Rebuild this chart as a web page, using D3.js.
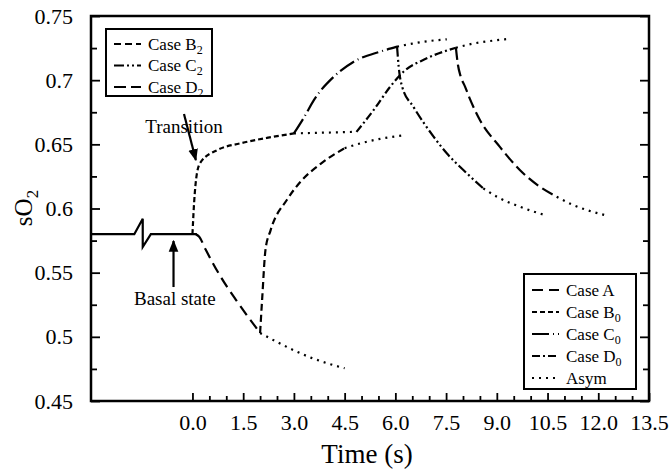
<!DOCTYPE html>
<html>
<head>
<meta charset="utf-8">
<script src="https://cdn.jsdelivr.net/npm/d3@7"></script>
<style>
  body { margin: 0; background: #fff; }
  text { font-family: 'Liberation Serif', 'DejaVu Serif', serif; fill: #000; }
</style>
</head>
<body>
<div class="chart-container"></div>
<script>
// values: [time (s), sO2]
var basal = [[-3, 0.58], [-1.72, 0.58], [-1.47, 0.592], [-1.47, 0.57], [-1.23, 0.58], [0.13, 0.58]];
var caseA = [[0.1, 0.58], [0.2, 0.578], [0.39, 0.568], [0.83, 0.547], [1.28, 0.529], [1.66, 0.515], [2.0, 0.503]];
var asymA = [[2.0, 0.503], [2.5, 0.496], [3.0, 0.4895], [3.5, 0.4838], [4.0, 0.4793], [4.5, 0.4755]];
var caseB0 = [[0, 0.58], [0.05, 0.605], [0.13, 0.627], [0.24, 0.636], [0.74, 0.6456], [1.42, 0.6508], [2.2, 0.655], [3.0, 0.6585]];
var asymB0 = [[3.0, 0.6585], [3.75, 0.659], [4.5, 0.6595], [4.8, 0.6597]];
var caseB2 = [[2.0, 0.503], [2.06, 0.529], [2.16, 0.568], [2.31, 0.583], [2.8, 0.607], [3.2, 0.621], [3.8, 0.635], [4.5, 0.647]];
var asymB2 = [[4.5, 0.647], [5.0, 0.651], [5.6, 0.6545], [6.25, 0.657]];
var caseC0 = [[3.0, 0.6585], [3.3, 0.671], [3.59, 0.6845], [4.18, 0.7027], [4.77, 0.7144], [5.55, 0.7222], [6.05, 0.7261]];
var asymC0 = [[6.05, 0.7261], [6.5, 0.7285], [7.0, 0.7305], [7.52, 0.7318]];
var caseD0 = [[4.85, 0.6597], [5.36, 0.6768], [5.85, 0.695], [6.24, 0.7066], [6.93, 0.717], [7.79, 0.7253]];
var asymD0 = [[7.79, 0.7253], [8.3, 0.7285], [8.8, 0.7305], [9.3, 0.732]];
var caseC2 = [[6.05, 0.7261], [6.1, 0.71], [6.2, 0.695], [6.54, 0.679], [7.13, 0.656], [7.52, 0.643], [8.01, 0.63], [8.6, 0.6157]];
var asymC2 = [[8.6, 0.6157], [9.0, 0.6092], [9.68, 0.6014], [10.42, 0.5949]];
var caseD2 = [[7.79, 0.7253], [7.85, 0.712], [7.93, 0.703], [8.06, 0.695], [8.21, 0.685], [8.5, 0.669], [9.09, 0.648], [9.68, 0.63], [10.27, 0.617], [10.77, 0.6092]];
var asymD2 = [[10.77, 0.6092], [11.26, 0.6027], [11.7, 0.5985], [12.19, 0.5949]];

var xTicks = [0, 1.5, 3.0, 4.5, 6.0, 7.5, 9.0, 10.5, 12.0, 13.5];
var xMinorTicks = d3.range(0, 13.51, 0.5);
var yTicks = [0.45, 0.5, 0.55, 0.6, 0.65, 0.7, 0.75];
var yMinorTicks = [0.475, 0.525, 0.575, 0.625, 0.675, 0.725];

var legendTop = [['Case B', '2'], ['Case C', '2'], ['Case D', '2']];
var legendBottom = [['Case A', ''], ['Case B', '0'], ['Case C', '0'], ['Case D', '0'], ['Asym', '']];

// annotation anchors in data units
var transitionArrow = [[-0.25, 0.6736], [0.1, 0.6378]];
var transitionLabel = [-0.25, 0.6588];
var basalArrow = [[-0.56, 0.5388], [-0.56, 0.5747]];
var basalLabel = [-0.52, 0.5248];

var dash = {
  A: '11,6',
  B0: '5,3',
  B2: '7,4',
  C0: '17,4,1,4',
  D0: '8,3,2,3',
  C2: '10,3,2,3,2,3',
  D2: '12,5',
  asym: '2,5'
};

var W = 670, H = 471;
var margin = {top: 16, right: 21, bottom: 70, left: 91};

var x = d3.scaleLinear().domain([-3, 13.5]).range([margin.left, W - margin.right]);
var y = d3.scaleLinear().domain([0.45, 0.75]).range([H - margin.bottom, margin.top]);

var svg = d3.select('.chart-container').append('svg')
  .attr('width', W)
  .attr('height', H);

svg.append('defs').append('marker')
  .attr('id', 'head')
  .attr('viewBox', '0 0 10 10')
  .attr('refX', 9).attr('refY', 5)
  .attr('markerWidth', 5.5).attr('markerHeight', 5.5)
  .attr('markerUnits', 'strokeWidth')
  .attr('orient', 'auto')
  .append('path')
  .attr('d', 'M0,1 L10,5 L0,9 Z')
  .style('fill', '#000');

var line = d3.line()
  .x(d => x(d[0]))
  .y(d => y(d[1]));

function drawSeries(data, dasharray, curve) {
  svg.append('path')
    .datum(data)
    .attr('d', line.curve(curve || d3.curveMonotoneX)(data))
    .style('fill', 'none')
    .style('stroke', '#000')
    .style('stroke-width', 2.2)
    .style('stroke-dasharray', dasharray);
}

drawSeries(basal, null, d3.curveLinear);
drawSeries(caseA, dash.A);
drawSeries(asymA, dash.asym);
drawSeries(caseB0, dash.B0);
drawSeries(asymB0, dash.asym);
drawSeries(caseB2, dash.B2);
drawSeries(asymB2, dash.asym);
drawSeries(caseC0, dash.C0);
drawSeries(asymC0, dash.asym);
drawSeries(caseD0, dash.D0);
drawSeries(asymD0, dash.asym);
drawSeries(caseC2, dash.C2);
drawSeries(asymC2, dash.asym);
drawSeries(caseD2, dash.D2);
drawSeries(asymD2, dash.asym);

// axes, ticks pointing inward
var fmtY = d3.format('.2~f');
var fmtX = d3.format('.1f');

function styleAxis(g) {
  g.select('.domain').remove();
  g.selectAll('line').style('stroke', '#000').style('stroke-width', 1.8);
  g.selectAll('text').style('font-family', "'Liberation Serif', serif").style('font-size', '22px');
}

svg.append('g')
  .attr('transform', `translate(${margin.left},0)`)
  .call(d3.axisLeft(y).tickValues(yTicks).tickSize(-9).tickPadding(18).tickFormat(fmtY))
  .call(styleAxis);
svg.append('g')
  .attr('transform', `translate(${margin.left},0)`)
  .call(d3.axisLeft(y).tickValues(yMinorTicks).tickSize(-6).tickFormat(''))
  .call(styleAxis);
svg.append('g')
  .attr('transform', `translate(${W - margin.right},0)`)
  .call(d3.axisRight(y).tickValues(yTicks).tickSize(-9).tickFormat(''))
  .call(styleAxis);
svg.append('g')
  .attr('transform', `translate(${W - margin.right},0)`)
  .call(d3.axisRight(y).tickValues(yMinorTicks).tickSize(-6).tickFormat(''))
  .call(styleAxis);
svg.append('g')
  .attr('transform', `translate(0,${H - margin.bottom})`)
  .call(d3.axisBottom(x).tickValues(xMinorTicks.filter(v => xTicks.indexOf(v) < 0)).tickSize(-5).tickFormat(''))
  .call(styleAxis);
svg.append('g')
  .attr('transform', `translate(0,${H - margin.bottom})`)
  .call(d3.axisBottom(x).tickValues(xTicks).tickSize(-8).tickPadding(13).tickFormat(fmtX))
  .call(styleAxis);

svg.append('rect')
  .attr('x', margin.left).attr('y', margin.top)
  .attr('width', W - margin.left - margin.right)
  .attr('height', H - margin.top - margin.bottom)
  .style('fill', 'none').style('stroke', '#000').style('stroke-width', 2.5);

// axis titles
svg.append('text')
  .attr('x', 367).attr('y', 463)
  .attr('text-anchor', 'middle')
  .style('font-size', '27px')
  .text('Time (s)');

var yl = svg.append('text')
  .attr('transform', 'translate(32,208) rotate(-90)')
  .attr('text-anchor', 'middle')
  .style('font-size', '25px');
yl.append('tspan').text('sO');
yl.append('tspan').attr('dy', 6).style('font-size', '17px').text('2');

// annotations
svg.append('line')
  .attr('x1', x(transitionArrow[0][0])).attr('y1', y(transitionArrow[0][1]))
  .attr('x2', x(transitionArrow[1][0])).attr('y2', y(transitionArrow[1][1]))
  .style('stroke', '#000').style('stroke-width', 2.2)
  .attr('marker-end', 'url(#head)');
svg.append('text')
  .attr('x', x(transitionLabel[0])).attr('y', y(transitionLabel[1]))
  .attr('text-anchor', 'middle')
  .style('font-size', '19px')
  .text('Transition');

svg.append('line')
  .attr('x1', x(basalArrow[0][0])).attr('y1', y(basalArrow[0][1]))
  .attr('x2', x(basalArrow[1][0])).attr('y2', y(basalArrow[1][1]))
  .style('stroke', '#000').style('stroke-width', 2.2)
  .attr('marker-end', 'url(#head)');
svg.append('text')
  .attr('x', x(basalLabel[0])).attr('y', y(basalLabel[1]))
  .attr('text-anchor', 'middle')
  .style('font-size', '19px')
  .text('Basal state');

// legends
function drawLegend(entries, keys, box, rowH) {
  var g = svg.append('g');
  g.append('rect')
    .attr('x', box.x).attr('y', box.y)
    .attr('width', box.w).attr('height', box.h)
    .style('fill', '#fff').style('stroke', '#000').style('stroke-width', 2);
  entries.forEach(function(e, i) {
    var cy = box.y + box.first + i * rowH;
    g.append('line')
      .attr('x1', box.x + 8).attr('x2', box.x + 35)
      .attr('y1', cy).attr('y2', cy)
      .style('stroke', '#000').style('stroke-width', 2.2)
      .style('stroke-dasharray', dash[keys[i]]);
    var t = g.append('text')
      .attr('x', box.x + 42).attr('y', cy + 5.5)
      .style('font-size', '17px');
    t.append('tspan').text(e[0]);
    if (e[1]) t.append('tspan').attr('dy', 4).style('font-size', '12px').text(e[1]);
  });
}

drawLegend(legendTop, ['B2', 'C2', 'D2'], {x: 106, y: 29, w: 106, h: 67, first: 15}, 21.5);
drawLegend(legendBottom, ['A', 'B0', 'C0', 'D0', 'asym'], {x: 524, y: 274, w: 112, h: 115, first: 16}, 22);
</script>
</body>
</html>
